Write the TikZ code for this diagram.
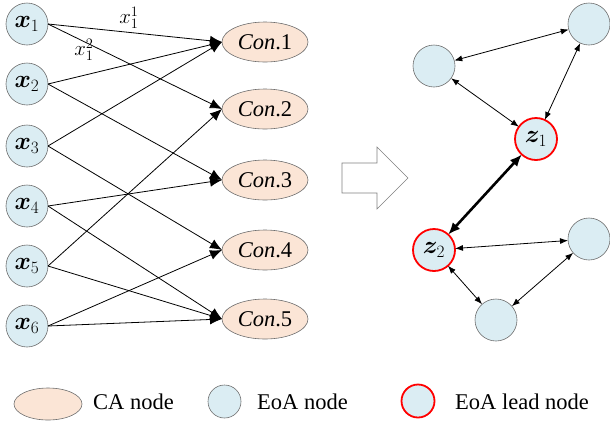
\documentclass[tikz,border=0pt]{standalone}
\usepackage{fontspec}
\setmainfont{Liberation Serif}
\usepackage{bm}
\usetikzlibrary{arrows.meta,shapes.geometric}
\definecolor{eoa}{RGB}{219,237,243}
\definecolor{ca}{RGB}{251,229,214}
\definecolor{bord}{RGB}{110,110,110}
\tikzset{
  txt/.style={font=\fontsize{22.5}{26}\selectfont},
  mtxt/.style={font=\fontsize{25}{28}\selectfont},
  eoanode/.style={circle,draw=bord,fill=eoa,line width=0.6pt,minimum size=42pt,inner sep=0pt,outer sep=0pt,mtxt},
  leadnode/.style={eoanode,draw=red,line width=1.8pt},
  canode/.style={ellipse,draw=bord,fill=ca,line width=0.6pt,minimum width=86pt,minimum height=40pt,inner sep=0pt,outer sep=0pt,txt},
  conn/.style={line width=0.8pt,-{Latex[length=12pt,width=10pt]}},
  link/.style={line width=0.8pt,{Latex[length=8pt,width=6pt]}-{Latex[length=8pt,width=6pt]}},
  biglink/.style={line width=2.6pt,{Latex[length=12pt,width=10pt]}-{Latex[length=12pt,width=10pt]}},
  lbl/.style={txt,inner sep=0pt}
}
\begin{document}
\begin{tikzpicture}[x=1pt,y=-1pt]
\useasboundingbox (0,0) rectangle (610,424);
% left nodes
\node[eoanode] (x1) at (27,24) {$\bm{x}_1$};
\node[eoanode] (x2) at (27,84) {$\bm{x}_2$};
\node[eoanode] (x3) at (27,146) {$\bm{x}_3$};
\node[eoanode] (x4) at (27,206) {$\bm{x}_4$};
\node[eoanode] (x5) at (27,266) {$\bm{x}_5$};
\node[eoanode] (x6) at (27,326) {$\bm{x}_6$};
\node[canode] (c1) at (265,42) {\textit{Con}.1};
\node[canode] (c2) at (265,109) {\textit{Con}.2};
\node[canode] (c3) at (265,180) {\textit{Con}.3};
\node[canode] (c4) at (265,250) {\textit{Con}.4};
\node[canode] (c5) at (265,319) {\textit{Con}.5};
\draw[conn] (x1.east) -- (c1.west);
\draw[conn] (x1.east) -- (c2.west);
\draw[conn] (x2.east) -- (c1.west);
\draw[conn] (x2.east) -- (c3.west);
\draw[conn] (x3.east) -- (c1.west);
\draw[conn] (x3.east) -- (c4.west);
\draw[conn] (x4.east) -- (c3.west);
\draw[conn] (x4.east) -- (c5.west);
\draw[conn] (x5.east) -- (c2.west);
\draw[conn] (x5.east) -- (c5.west);
\draw[conn] (x6.east) -- (c4.west);
\draw[conn] (x6.east) -- (c5.west);
\node[lbl] (l11) at (129,18) {$x_1^1$};
\node[lbl] (l12) at (84,50) {$x_1^2$};
% hollow arrow
\draw[draw=gray,fill=white,line width=0.6pt] (342,163) -- (377,163) -- (377,147) -- (408,178) -- (377,209) -- (377,193) -- (342,193) -- cycle;
% right graph
\node[eoanode] (tl) at (434,66) {};
\node[eoanode] (tr) at (589,24) {};
\node[leadnode] (z1) at (536,139) {$\bm{z}_1$};
\node[leadnode] (z2) at (434,250) {$\bm{z}_2$};
\node[eoanode] (rr) at (589,239) {};
\node[eoanode] (bb) at (496,320) {};
\draw[link] (tl) -- (tr);
\draw[link] (tl) -- (z1);
\draw[link] (tr) -- (z1);
\draw[biglink] (z1) -- (z2);
\draw[link] (z2) -- (rr);
\draw[link] (z2) -- (bb);
\draw[link] (bb) -- (rr);
% legend
\node[canode,minimum width=68pt,minimum height=32pt] (lca) at (48,404) {};
\node[lbl,anchor=base west] (tca) at (93,409) {CA node};
\node[eoanode,minimum size=33pt] (leoa) at (224.5,401.5) {};
\node[lbl,anchor=base west] (teoa) at (257,409) {EoA node};
\node[leadnode,minimum size=33pt] (llead) at (418,401) {};
\node[lbl,anchor=base west] (tlead) at (455,409) {EoA lead node};
\end{tikzpicture}
\end{document}
